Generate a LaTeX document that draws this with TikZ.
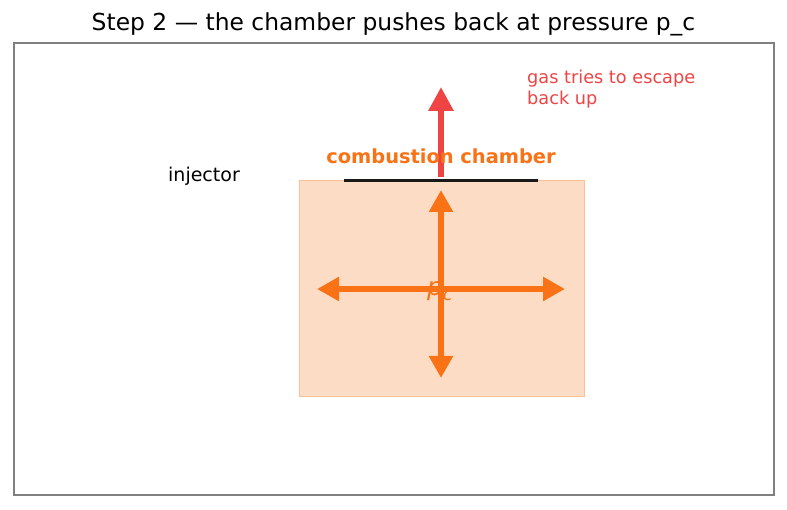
\documentclass[tikz,border=0pt]{standalone}
\usepackage{fontspec}
\setmainfont{DejaVu Sans}
\usetikzlibrary{arrows.meta}
\definecolor{flame}{HTML}{F97316}
\definecolor{backred}{HTML}{EF4444}
\tikzset{
  push/.style={draw=flame,line width=5.5pt,-{Triangle[length=22pt,width=23pt]}},
  lbl/.style={inner sep=0pt,font=\fontsize{19}{22}\selectfont}
}
\begin{document}
\begin{tikzpicture}[x=1pt,y=-1pt]
\useasboundingbox (0,0) rectangle (787,510);
\fill[white] (0,0) rectangle (787,510);
\node[inner sep=0pt,font=\fontsize{23.4}{26}\selectfont] (title) at (393.5,24) {Step 2 — the chamber pushes back at pressure p\_c};
\draw[black!50,line width=1.2pt] (14,43) rectangle (774,495);
% chamber
\fill[flame!25] (299,181) rectangle (584,397);
\draw[flame!45,line width=1pt] (299,181) rectangle (584,397);
\coordinate (c) at (441,289);
\coordinate (l) at (317,289);
\coordinate (r) at (565,289);
\coordinate (u) at (441,190);
\coordinate (d) at (441,378);
\draw[push] (c) -- (l);
\draw[push] (c) -- (r);
\draw[push] (c) -- (u);
\draw[push] (c) -- (d);
\node[text=flame,inner sep=0pt,font=\fontsize{25}{28}\selectfont\itshape] (pc) at (440,291) {p\raisebox{-5pt}{\fontsize{18}{20}\selectfont c}};
% injector and escaping gas
\coordinate (il) at (344,181);
\coordinate (ir) at (538,181);
\draw[black!90,line width=3pt] (il) -- (ir);
\coordinate (gs) at (441,177);
\coordinate (gt) at (441,87);
\draw[draw=backred,line width=6pt,-{Triangle[length=24pt,width=24pt]}] (gs) -- (gt);
\node[lbl,text=flame,font=\fontsize{19.4}{22}\selectfont\bfseries] (cc) at (441,156) {combustion chamber};
\node[lbl] (inj) at (204,176) {injector};
\node[lbl,text=backred,anchor=north west,align=left,font=\fontsize{17.7}{21}\selectfont] (gas) at (527,69.5) {gas tries to escape\\back up};
\end{tikzpicture}
\end{document}
